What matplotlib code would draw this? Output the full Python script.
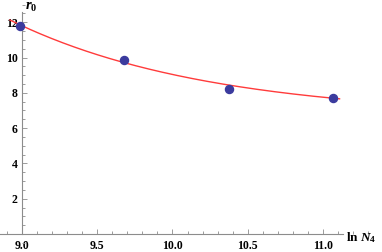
import numpy as np
import matplotlib.pyplot as plt
from matplotlib.ticker import MultipleLocator, FormatStrFormatter

# measured points: ln N4 vs r0
ln_n4 = [8.987, 9.680, 10.373, 11.066]
r0 = [11.76, 9.85, 8.20, 7.70]

# fitted curve r0 = c + a * exp(-k * (ln N4 - 9)), parameters
fit_c, fit_a, fit_k = 6.62, 5.18, 0.761
fit_range = (8.92, 11.11)

AXIS_GRAY = "#8c8c8c"
LINE_RED = "#ff3b3b"
DOT_BLUE = "#3b3b9e"

plt.rcParams["font.family"] = ["Liberation Serif", "DejaVu Serif"]
plt.rcParams["mathtext.fontset"] = "custom"
plt.rcParams["mathtext.rm"] = "Liberation Serif:bold"
plt.rcParams["mathtext.it"] = "Liberation Serif:italic:bold"

fig = plt.figure(figsize=(3.82, 2.52), dpi=100)
ax = fig.add_axes([0, 0, 1, 1])
ax.set_xlim(8.854, 11.392)
ax.set_ylim(-1.02, 13.26)

xs = np.linspace(*fit_range, 200)
ax.plot(xs, fit_c + fit_a * np.exp(-fit_k * (xs - 9)), color=LINE_RED, lw=1.0, zorder=2)
ax.plot(ln_n4, r0, "o", color=DOT_BLUE, ms=5.8, mec=DOT_BLUE, zorder=3)

for side in ("top", "right"):
    ax.spines[side].set_visible(False)
ax.spines["left"].set_position(("data", 9.0))
ax.spines["bottom"].set_position(("data", 0.0))
ax.spines["left"].set_bounds(0, 12.6)
ax.spines["bottom"].set_bounds(8.854, 11.13)
for side in ("left", "bottom"):
    ax.spines[side].set_color(AXIS_GRAY)
    ax.spines[side].set_linewidth(0.8)

ax.xaxis.set_major_locator(MultipleLocator(0.5))
ax.xaxis.set_minor_locator(MultipleLocator(0.1))
ax.yaxis.set_major_locator(MultipleLocator(2))
ax.yaxis.set_minor_locator(MultipleLocator(0.5))
ax.xaxis.set_major_formatter(FormatStrFormatter("%.1f"))
ax.set_xticks([9.0, 9.5, 10.0, 10.5, 11.0])
ax.set_yticks([2, 4, 6, 8, 10, 12])
ax.tick_params(which="both", direction="in", color=AXIS_GRAY, width=0.6)
ax.tick_params(which="major", length=3.5, labelsize=8.5)
ax.tick_params(which="minor", length=2)
ax.tick_params(axis="x", pad=4)
ax.tick_params(axis="y", pad=3)
for lab in ax.get_xticklabels() + ax.get_yticklabels():
    lab.set_fontweight("bold")

ax.text(9.02, 12.85, r"$r_0$", fontsize=10.5, ha="left", va="center")
ax.text(11.15, -0.2, r"ln $N_4$", fontsize=9.5, fontweight="bold", ha="left", va="center")

fig.savefig("out.png", dpi=100)
